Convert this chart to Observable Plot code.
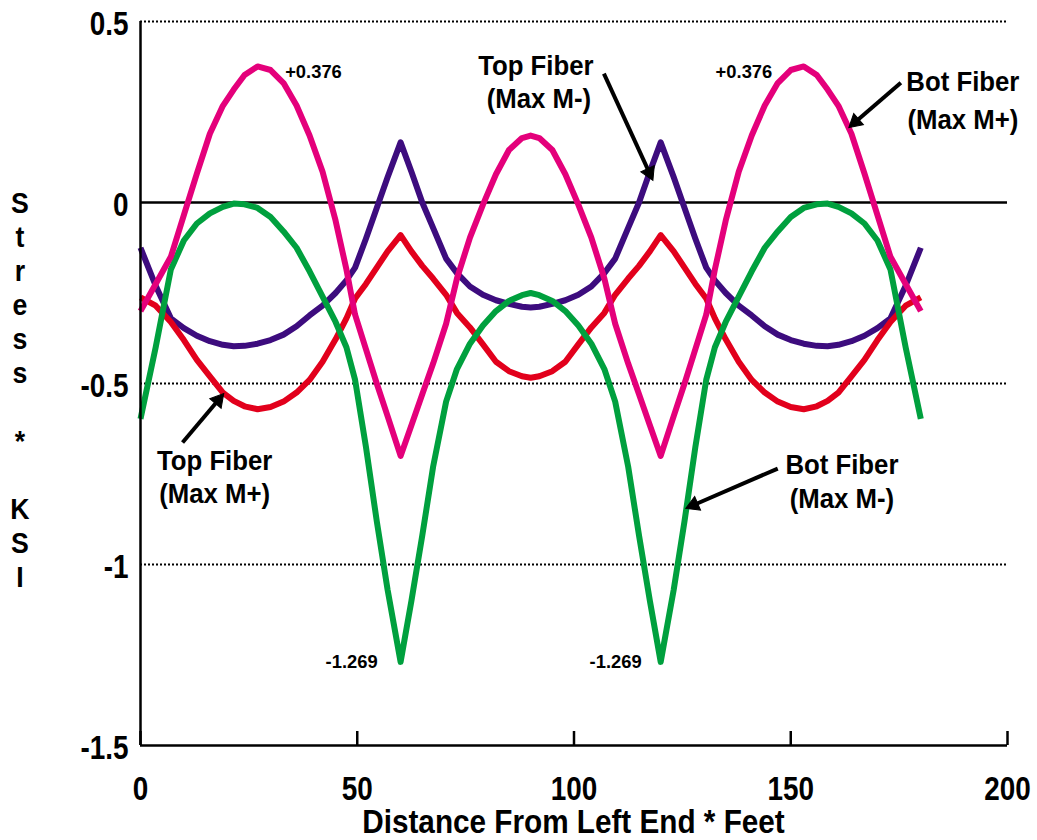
<!DOCTYPE html>
<html><head><meta charset="utf-8">
<script src="https://cdn.jsdelivr.net/npm/d3@7"></script>
<script src="https://cdn.jsdelivr.net/npm/@observablehq/plot@0.6"></script>
<style>
html,body{margin:0;padding:0;background:#fff;}
#chart{width:1037px;height:840px;}
</style></head><body><div id="chart"></div>
<script>
// ---- data (feet along the beam, stress in ksi) ----
const distance = [0,3.5,7,10,13,16,19,21.5,24,27,30,33,36,39,42,45,47.5,49.5,52,54.5,57,60,
  62.5,65,67.5,70.5,73,76,79,82,85,88,90,
  92,95,98,101,104,107,109.5,112.5,115,117.5,
  120,123,125.5,128,130.5,132.5,135,138,141,144,147,150,153,156,158.5,161,164,167,170,173,176.5,180];

const topFiberMaxMneg = [-0.125,-0.23,-0.32,-0.347,-0.368,-0.383,-0.393,-0.397,-0.396,-0.39,-0.38,-0.365,-0.342,-0.312,-0.285,-0.25,-0.215,-0.18,-0.10,-0.015,0.07,0.166,
  0.085,0.0,-0.07,-0.155,-0.195,-0.232,-0.255,-0.27,-0.28,-0.288,-0.29,
  -0.288,-0.28,-0.27,-0.255,-0.232,-0.195,-0.155,-0.07,0.0,0.085,
  0.166,0.07,-0.015,-0.10,-0.18,-0.215,-0.25,-0.285,-0.312,-0.342,-0.365,-0.38,-0.39,-0.396,-0.397,-0.393,-0.383,-0.368,-0.347,-0.32,-0.23,-0.125];

const topFiberMaxMpos = [-0.262,-0.285,-0.33,-0.38,-0.435,-0.48,-0.525,-0.548,-0.563,-0.571,-0.565,-0.55,-0.525,-0.49,-0.44,-0.378,-0.32,-0.265,-0.225,-0.18,-0.135,-0.09,
  -0.135,-0.175,-0.21,-0.255,-0.305,-0.345,-0.392,-0.44,-0.466,-0.48,-0.484,
  -0.48,-0.466,-0.44,-0.392,-0.345,-0.305,-0.255,-0.21,-0.175,-0.135,
  -0.09,-0.135,-0.18,-0.225,-0.265,-0.32,-0.378,-0.44,-0.49,-0.525,-0.55,-0.565,-0.571,-0.563,-0.548,-0.525,-0.48,-0.435,-0.38,-0.33,-0.285,-0.262];

const botFiberMaxMneg = [-0.598,-0.40,-0.185,-0.105,-0.058,-0.03,-0.012,-0.003,-0.005,-0.015,-0.04,-0.08,-0.125,-0.19,-0.26,-0.33,-0.40,-0.49,-0.675,-0.88,-1.07,-1.269,
  -1.10,-0.92,-0.73,-0.55,-0.46,-0.39,-0.34,-0.30,-0.272,-0.256,-0.25,
  -0.256,-0.272,-0.30,-0.34,-0.39,-0.46,-0.55,-0.73,-0.92,-1.10,
  -1.269,-1.07,-0.88,-0.675,-0.49,-0.40,-0.33,-0.26,-0.19,-0.125,-0.08,-0.04,-0.015,-0.005,-0.003,-0.012,-0.03,-0.058,-0.105,-0.185,-0.40,-0.598];

const botFiberMaxMpos = [-0.30,-0.225,-0.15,-0.035,0.08,0.19,0.267,0.312,0.352,0.376,0.366,0.33,0.268,0.185,0.085,-0.05,-0.185,-0.31,-0.405,-0.50,-0.59,-0.70,
  -0.615,-0.53,-0.445,-0.335,-0.21,-0.097,-0.006,0.078,0.145,0.178,0.185,
  0.178,0.145,0.078,-0.006,-0.097,-0.21,-0.335,-0.445,-0.53,-0.615,
  -0.70,-0.59,-0.50,-0.405,-0.31,-0.185,-0.05,0.085,0.185,0.268,0.33,0.366,0.376,0.352,0.312,0.267,0.19,0.08,-0.035,-0.15,-0.225,-0.30];

const seriesNames = ["Top Fiber (Max M-)", "Top Fiber (Max M+)", "Bot Fiber (Max M-)", "Bot Fiber (Max M+)"];
const seriesColors = ["#3d0c7e", "#e2001c", "#00a03e", "#e4007b"];
const xTicks = [0, 50, 100, 150, 200];
const yTicks = [0.5, 0, -0.5, -1, -1.5];
const dottedGrid = [0.5, -0.5, -1];

const valueLabels = ["+0.376", "+0.376", "-1.269", "-1.269"];
const valueLabelX = [39.9, 139.2, 48.7, 109.6];
const valueLabelY = [0.345, 0.343, -1.285, -1.285];

const calloutText = ["Top Fiber", "(Max M-)", "Bot Fiber", "(Max M+)", "Top Fiber", "(Max M+)", "Bot Fiber", "(Max M-)"];
const calloutX = [91.2, 91.9, 189.7, 189.7, 17.1, 17.1, 161.8, 161.8];
const calloutY = [0.351, 0.260, 0.309, 0.204, -0.740, -0.829, -0.749, -0.845];

const arrowX1 = [106.9, 175.4, 9.7, 147.0];
const arrowY1 = [0.356, 0.331, -0.663, -0.735];
const arrowX2 = [118.2, 163.4, 19.2, 125.8];
const arrowY2 = [0.061, 0.207, -0.528, -0.845];

const yTitle = "Stress * KSI";
const xTitle = "Distance From Left End * Feet";

// ---- layout ----
const W = 1037, H = 840, ML = 140, MR = 30, MT = 21, MB = 95;
const X_DOMAIN = [0, 200], Y_DOMAIN = [-1.5, 0.5];
const kx = (W - ML - MR) / (X_DOMAIN[1] - X_DOMAIN[0]);
const ky = (H - MT - MB) / (Y_DOMAIN[1] - Y_DOMAIN[0]);
const HEAD_R = 5.5;
const headBack = 2 * Math.sqrt(Math.PI * HEAD_R * HEAD_R / (3 * Math.sqrt(3)));

// ---- build tables ----
const seriesValues = [topFiberMaxMneg, topFiberMaxMpos, botFiberMaxMneg, botFiberMaxMpos];
const rows = seriesNames.flatMap((name, s) => distance.map((d, i) => ({x: d, y: seriesValues[s][i], name})));
const valueRows = valueLabels.map((t, i) => ({t, x: valueLabelX[i], y: valueLabelY[i]}));
const calloutRows = calloutText.map((t, i) => ({t, x: calloutX[i], y: calloutY[i]}));
const arrowRows = arrowX1.map((x1, i) => {
  const y1 = arrowY1[i], x2 = arrowX2[i], y2 = arrowY2[i];
  const sx = (x2 - x1) * kx, sy = -(y2 - y1) * ky;
  const len = Math.hypot(sx, sy), ux = sx / len, uy = sy / len;
  return {x1, y1, hx: x2 - ux * headBack / kx, hy: y2 + uy * headBack / ky,
          rot: Math.atan2(ux, -uy) * 180 / Math.PI};
});

const FONT = '"Liberation Sans", Arial, sans-serif';

const chart = Plot.plot({
  width: W, height: H,
  marginLeft: ML, marginRight: MR, marginTop: MT, marginBottom: MB,
  x: {domain: X_DOMAIN},
  y: {domain: Y_DOMAIN},
  color: {domain: seriesNames, range: seriesColors},
  style: {background: "#fff", fontFamily: FONT, color: "#000"},
  marks: [
    Plot.ruleY(dottedGrid, {stroke: "#000", strokeWidth: 2, strokeDasharray: "2,2"}),
    Plot.ruleY([0], {stroke: "#000", strokeWidth: 2.5}),
    Plot.line(rows, {x: "x", y: "y", z: "name", stroke: "name", strokeWidth: 6, strokeLinecap: "butt", strokeLinejoin: "round"}),
    Plot.axisX({ticks: xTicks, tickSize: -14, tickPadding: 44, strokeWidth: 2.5, tickFormat: d => String(d), fontSize: 34, fontWeight: "bold", label: null}),
    Plot.axisY({ticks: yTicks, tickSize: 0, tickPadding: 12, dy: 3, tickFormat: d => String(d), fontSize: 34, fontWeight: "bold", label: null}),
    Plot.ruleX([0], {stroke: "#000", strokeWidth: 2.5}),
    Plot.ruleY([-1.5], {stroke: "#000", strokeWidth: 2.5}),
    Plot.text(valueRows, {x: "x", y: "y", text: "t", fontSize: 18, fontWeight: "bold", lineAnchor: "bottom", textAnchor: "middle", fill: "#000"}),
    Plot.text(calloutRows, {x: "x", y: "y", text: "t", fontSize: 28, fontWeight: "bold", lineAnchor: "bottom", textAnchor: "middle", fill: "#000"}),
    Plot.link(arrowRows, {x1: "x1", y1: "y1", x2: "hx", y2: "hy", stroke: "#000", strokeWidth: 4}),
    Plot.dot(arrowRows, {x: "hx", y: "hy", symbol: "triangle", r: HEAD_R, rotate: "rot", fill: "#000", stroke: "#000", strokeWidth: 1})
  ]
});

const svg = d3.select(chart);
const letters = Array.from(yTitle);
svg.append("g")
  .attr("font-family", FONT).attr("font-size", 29).attr("font-weight", "bold").attr("text-anchor", "middle")
  .selectAll("text").data(letters).join("text")
  .attr("x", 20).attr("y", (d, i) => MT + 192 + 34 * i).text(d => d);
svg.append("text").attr("class", "xtitle")
  .attr("font-family", FONT).attr("font-size", 33).attr("font-weight", "bold").attr("text-anchor", "middle")
  .attr("x", ML + (W - ML - MR) / 2).attr("y", H - 7).text(xTitle);

document.getElementById("chart").appendChild(chart);

// condensed look of the original's bold narrow typeface
svg.selectAll("text").each(function() {
  const fs = parseFloat(getComputedStyle(this).fontSize);
  const w = this.getComputedTextLength();
  if (!w) return;
  let k = 1.02;
  if (this.getAttribute("class") === "xtitle") k = 0.9;
  else if (fs >= 30) k = 0.82;
  else if (fs >= 20) k = 0.92;
  this.setAttribute("textLength", w * k);
  this.setAttribute("lengthAdjust", "spacingAndGlyphs");
});
</script>
</body></html>
